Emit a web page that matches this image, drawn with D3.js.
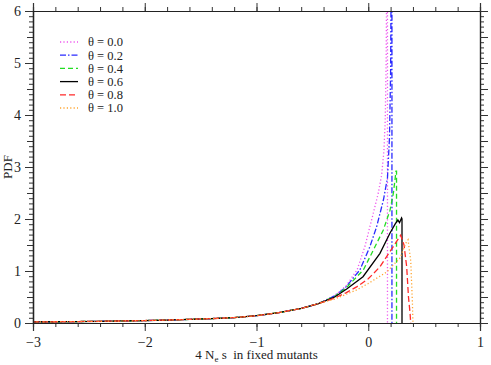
<!DOCTYPE html>
<html><head><meta charset="utf-8">
<script src="https://cdn.jsdelivr.net/npm/d3@7"></script>
<style>body{margin:0;background:#fff}svg{display:block}svg text{font-family:"Liberation Serif","Times New Roman",serif !important;fill:#222}</style>
</head><body>
<script>
// ---- data ----
const labels = ["θ = 0.0","θ = 0.2","θ = 0.4","θ = 0.6","θ = 0.8","θ = 1.0"];
const colors = ["#ee55ee","#2b2bff","#22dd22","#000000","#ff2a2a","#ffa530"];
const dashes = ["1.2,2.2","6,2,1.5,2","5,3",null,"6,3","1.2,2.2"];
// shared left tail (s, pdf)
const tailS   = [-3.0,-2.8,-2.6,-2.4,-2.2,-2.0,-1.8,-1.6,-1.4,-1.2,-1.0,-0.8,-0.6,-0.45];
const tailPdf = [0.02,0.024,0.028,0.033,0.039,0.047,0.057,0.07,0.085,0.105,0.14,0.2,0.28,0.37];
// per-series heads
const s00 = [-0.3,-0.2,-0.1,-0.03,0.045,0.09,0.12,0.14,0.152,0.16,0.166,0.172,0.172];
const p00 = [0.53,0.71,1.02,1.47,2.11,2.5,2.85,3.3,3.9,5.0,7.0,7.0,0];
const s02 = [-0.3,-0.2,-0.075,0.015,0.075,0.136,0.172,0.19,0.2,0.206,0.212,0.212];
const p02 = [0.52,0.69,1.02,1.47,1.85,2.37,2.79,3.56,4.8,7.0,7.0,0];
const s04 = [-0.3,-0.2,-0.044,0.045,0.135,0.195,0.225,0.239,0.248,0.253,0.253];
const p04 = [0.51,0.67,1.02,1.40,1.79,2.17,2.5,2.75,2.92,2.92,0];
const s06 = [-0.3,-0.19,-0.047,0.105,0.195,0.24,0.265,0.28,0.298,0.302,0.302];
const p06 = [0.50,0.66,0.89,1.34,1.73,1.9,1.98,1.93,2.02,2.0,0];
const s08 = [-0.3,-0.2,-0.1,0.0,0.105,0.224,0.29,0.32,0.344,0.36,0.374,0.38];
const p08 = [0.48,0.58,0.70,0.85,1.08,1.47,1.69,1.5,1.08,0.5,0.19,0];
const s10 = [-0.3,-0.2,-0.1,0.0,0.165,0.284,0.34,0.356,0.38,0.395,0.4];
const p10 = [0.46,0.55,0.64,0.76,0.98,1.25,1.55,1.6,1.2,0.4,0];
const heads = [[s00,p00],[s02,p02],[s04,p04],[s06,p06],[s08,p08],[s10,p10]];
const xTicks = [-3,-2,-1,0,1];
const yTicks = [0,1,2,3,4,5,6];

// ---- layout ----
const W=491,H=365, L=33,R=480,T=11,B=323;
const svg=d3.select("body").append("svg").attr("width",W).attr("height",H);
const x=d3.scaleLinear().domain([-3,1]).range([L,R]);
const y=d3.scaleLinear().domain([0,6]).range([B,T]);

svg.append("clipPath").attr("id","clip").append("rect").attr("x",L).attr("y",T).attr("width",R-L).attr("height",B-T);

const line=d3.line().x(d=>x(d[0])).y(d=>y(d[1]));
const g=svg.append("g").attr("clip-path","url(#clip)");
heads.forEach((h,i)=>{
  const pts=tailS.map((s,k)=>[s,tailPdf[k]]).concat(h[0].map((s,k)=>[s,h[1][k]]));
  const p=g.append("path").attr("d",line(pts)).attr("fill","none")
    .attr("stroke",colors[i]).attr("stroke-width",1.3);
  if(dashes[i]) p.attr("stroke-dasharray",dashes[i]);
});

// axes
const xMinor=d3.range(-3,1.0001,0.2), yMinor=d3.range(0,6.0001,0.1), yHalf=d3.range(0,6.0001,0.5);
svg.append("g").attr("transform",`translate(0,${B})`).call(d3.axisBottom(x).tickValues(xMinor).tickSize(4).tickFormat(""));
svg.append("g").attr("transform",`translate(0,${B})`).call(d3.axisBottom(x).tickValues(xTicks).tickSize(8).tickPadding(6).tickFormat(d3.format("d")));
svg.append("g").attr("transform",`translate(0,${T})`).call(d3.axisTop(x).tickValues(xMinor).tickSize(4).tickFormat(""));
svg.append("g").attr("transform",`translate(0,${T})`).call(d3.axisTop(x).tickValues(xTicks).tickSize(8).tickFormat(""));
svg.append("g").attr("transform",`translate(${L},0)`).call(d3.axisLeft(y).tickValues(yMinor).tickSize(4).tickFormat(""));
svg.append("g").attr("transform",`translate(${L},0)`).call(d3.axisLeft(y).tickValues(yHalf).tickSize(6).tickFormat(""));
svg.append("g").attr("transform",`translate(${L},0)`).call(d3.axisLeft(y).tickValues(yTicks).tickSize(8).tickPadding(4).tickFormat(d3.format("d")));
svg.append("g").attr("transform",`translate(${R},0)`).call(d3.axisRight(y).tickValues(yMinor).tickSize(4).tickFormat(""));
svg.append("g").attr("transform",`translate(${R},0)`).call(d3.axisRight(y).tickValues(yHalf).tickSize(8).tickFormat(""));
svg.selectAll("g").attr("font-family","Liberation Serif, serif");
svg.selectAll(".domain").attr("stroke","#222").attr("stroke-width",1.2);
svg.selectAll(".tick line").attr("stroke","#333");
svg.selectAll(".tick text").attr("font-size",14).attr("fill","#222");

// axis titles
const xt=svg.append("text").attr("x",(L+R)/2).attr("y",359).attr("text-anchor","middle").attr("font-size",13);
xt.append("tspan").text("4 N");
xt.append("tspan").attr("font-size",9).attr("dy",3).text("e");
xt.append("tspan").attr("dy",-3).text("\u00a0s \u00a0in fixed mutants");
svg.append("text").attr("transform",`translate(12,${(T+B)/2}) rotate(-90)`).attr("text-anchor","middle").attr("font-size",13).text("PDF");

// legend
const lg=svg.append("g");
labels.forEach((lab,i)=>{
  const yy=42+i*13.2;
  const l=lg.append("line").attr("x1",60).attr("x2",78).attr("y1",yy).attr("y2",yy).attr("stroke",colors[i]).attr("stroke-width",1.3);
  if(dashes[i]) l.attr("stroke-dasharray",dashes[i]);
  lg.append("text").attr("x",88).attr("y",yy+4.3).attr("font-size",12.5).text(lab);
});
</script>
</body></html>
